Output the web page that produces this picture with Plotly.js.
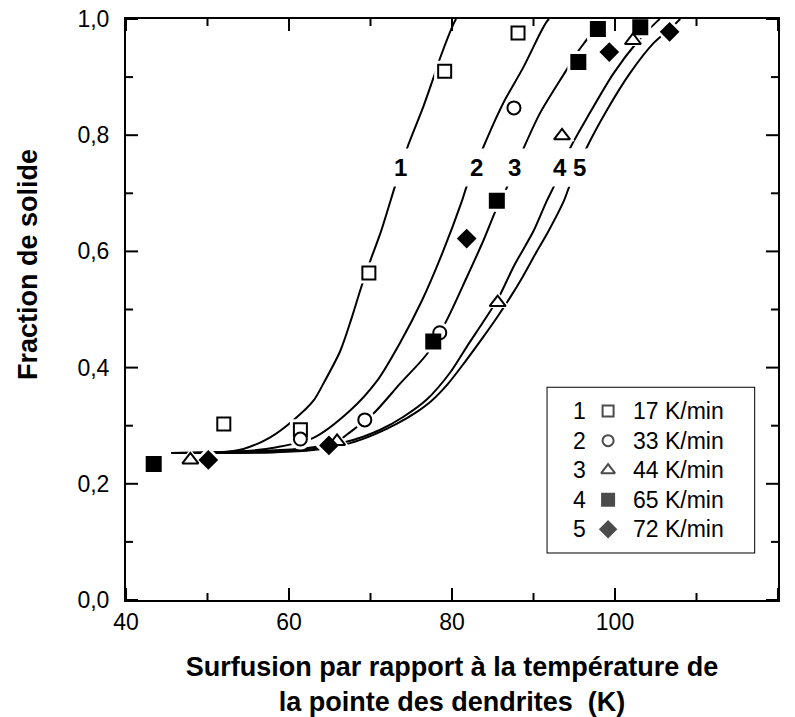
<!DOCTYPE html>
<html><head><meta charset="utf-8">
<script src="https://cdn.plot.ly/plotly-3.0.1.min.js"></script>
<style>html,body{margin:0;padding:0;background:#fff;}#chart{width:795px;height:717px;}</style>
</head><body><div id="chart"></div>
<script>
// ---- data ----
const rateLabels = ['17 K/min', '33 K/min', '44 K/min', '65 K/min', '72 K/min'];
const curveNumbers = ['1', '2', '3', '4', '5'];
const curveLabelX = [73.7, 83.0, 87.7, 93.2, 95.6];
const curveLabelY = [0.745, 0.745, 0.745, 0.745, 0.745];

// model curves
const curve1X = [45.6, 51.5, 54.4, 57.7, 60.5, 63.0, 64.2, 66.3, 67.7, 68.9, 70.0, 71.3, 73.0, 74.5, 76.4, 77.9, 78.6, 80.2, 80.5];
const curve1Y = [0.253, 0.254, 0.260, 0.280, 0.309, 0.343, 0.372, 0.429, 0.486, 0.540, 0.585, 0.635, 0.712, 0.778, 0.846, 0.906, 0.935, 0.992, 1.0];
const curve2X = [45.6, 54.4, 58.5, 63.0, 67.5, 70.8, 73.6, 76.3, 78.9, 81.2, 81.8, 83.8, 85.1, 86.5, 88.8, 90.8, 91.6, 91.9];
const curve2Y = [0.253, 0.256, 0.263, 0.279, 0.326, 0.377, 0.442, 0.515, 0.600, 0.686, 0.712, 0.778, 0.820, 0.861, 0.918, 0.975, 0.995, 1.0];
const curve3X = [45.6, 58.9, 63.0, 66.0, 67.5, 70.3, 73.6, 76.9, 79.3, 81.8, 83.8, 85.5, 86.7, 88.8, 90.8, 93.9, 95.5, 96.7, 98.0];
const curve3Y = [0.253, 0.258, 0.263, 0.274, 0.289, 0.320, 0.372, 0.423, 0.480, 0.555, 0.617, 0.675, 0.709, 0.778, 0.838, 0.909, 0.945, 0.968, 1.0];
const curve4X = [45.6, 58.0, 63.0, 66.7, 69.1, 71.2, 74.0, 76.9, 79.8, 82.0, 83.8, 85.7, 87.6, 90.0, 91.6, 92.5, 94.5, 96.9, 99.8, 102.7, 105.1, 105.5];
const curve4Y = [0.253, 0.255, 0.260, 0.271, 0.281, 0.293, 0.315, 0.345, 0.392, 0.440, 0.478, 0.520, 0.575, 0.635, 0.686, 0.712, 0.778, 0.838, 0.906, 0.960, 0.995, 1.0];
const curve5X = [45.6, 58.0, 63.0, 67.5, 70.5, 73.2, 75.5, 77.5, 79.5, 81.6, 83.8, 85.6, 87.1, 88.7, 90.4, 91.8, 93.7, 94.4, 96.5, 99.0, 101.8, 104.7, 106.9, 108.0];
const curve5Y = [0.253, 0.254, 0.258, 0.270, 0.285, 0.303, 0.322, 0.343, 0.372, 0.410, 0.452, 0.488, 0.520, 0.557, 0.600, 0.634, 0.686, 0.712, 0.778, 0.843, 0.906, 0.958, 0.985, 1.0];

// experimental points
const pts1X = [52.0, 61.4, 69.8, 79.1, 88.1];
const pts1Y = [0.303, 0.293, 0.563, 0.910, 0.976];
const pts2X = [61.4, 69.3, 78.5, 87.6];
const pts2Y = [0.277, 0.310, 0.460, 0.847];
const pts3X = [47.9, 65.9, 85.6, 93.5, 102.2];
const pts3Y = [0.241, 0.273, 0.512, 0.799, 0.963];
const pts4X = [43.4, 77.7, 85.5, 95.5, 97.9, 103.1];
const pts4Y = [0.234, 0.445, 0.687, 0.926, 0.983, 0.986];
const pts5X = [50.1, 64.9, 81.8, 99.3, 106.7];
const pts5Y = [0.241, 0.266, 0.622, 0.943, 0.978];

const xTickVals = [40, 60, 80, 100, 120];
const yTickVals = [0, 0.2, 0.4, 0.6, 0.8, 1.0];

// ---- styling ----
const FONT = 'Liberation Sans, Arial, Helvetica, sans-serif';
const M = {l: 126, r: 17, t: 19, b: 117};
const W = 795, H = 717;
const plotW = W - M.l - M.r, plotH = H - M.t - M.b;
const MAJ = 12, MIN = 7;

const curves = [[curve1X, curve1Y], [curve2X, curve2Y], [curve3X, curve3Y], [curve4X, curve4Y], [curve5X, curve5Y]];
const points = [[pts1X, pts1Y], [pts2X, pts2Y], [pts3X, pts3Y], [pts4X, pts4Y], [pts5X, pts5Y]];
const symbols = ['square', 'circle', 'triangle-up', 'square', 'diamond'];
const fills = ['white', 'white', 'white', 'black', 'black'];
const sizes = [13, 13, 14, 14, 13];
const legSizes = [11, 11, 12, 12, 12];

const traces = [];
curves.forEach(function (c) {
  traces.push({x: c[0], y: c[1], mode: 'lines', line: {color: 'black', width: 2, shape: 'spline', smoothing: 0.8},
    showlegend: false, hoverinfo: 'skip'});
});
points.forEach(function (p, i) {
  traces.push({x: p[0], y: p[1], mode: 'markers', marker: {symbol: symbols[i], size: sizes[i] + 8, color: 'white', line: {width: 0}},
    showlegend: false, hoverinfo: 'skip', cliponaxis: false});
});
points.forEach(function (p, i) {
  traces.push({x: p[0], y: p[1], mode: 'markers', name: rateLabels[i],
    marker: {symbol: symbols[i], size: sizes[i], color: fills[i], line: {color: 'black', width: 2}},
    showlegend: false, cliponaxis: false});
});

// custom legend in its own little axis system
const rowY = rateLabels.map(function (_, i) { return 0.5 + (2 - i) * 0.177; });
traces.push({x: rateLabels.map(function () { return 0.295; }), y: rowY, xaxis: 'x2', yaxis: 'y2', mode: 'markers',
  marker: {symbol: symbols, size: legSizes, color: fills, line: {color: 'black', width: 2}},
  showlegend: false, hoverinfo: 'skip', cliponaxis: false});

const annotations = [];
curveNumbers.forEach(function (n, i) {
  annotations.push({x: curveLabelX[i], y: curveLabelY[i], xref: 'x', yref: 'y', text: n, showarrow: false,
    font: {family: FONT, size: 24, color: 'black', weight: 700}, bgcolor: 'white', borderpad: 5});
});
rateLabels.forEach(function (t, i) {
  annotations.push({x: 0.16, y: rowY[i], xref: 'x2', yref: 'y2', text: curveNumbers[i], showarrow: false,
    font: {family: FONT, size: 23, color: 'black'}, xanchor: 'center'});
  annotations.push({x: 0.405, y: rowY[i], xref: 'x2', yref: 'y2', text: t, showarrow: false,
    font: {family: FONT, size: 23, color: 'black'}, xanchor: 'left'});
});
// y-axis title (placed a little above the centre, as in the original)
annotations.push({xref: 'paper', yref: 'paper', x: -0.150, y: 0.577, xanchor: 'center', yanchor: 'middle',
  text: 'Fraction de solide', textangle: -90, showarrow: false,
  font: {family: FONT, size: 27, color: 'black', weight: 700}});

// tick marks on all four sides (inside), major at labelled values, minor halfway between
const shapes = [{type: 'rect', xref: 'x2', yref: 'y2', x0: 0, x1: 1, y0: 0, y1: 1, line: {color: 'black', width: 2}, fillcolor: 'rgba(0,0,0,0)'}];
function xTick(v, len) {
  const f = len / plotH;
  shapes.push({type: 'line', xref: 'x', yref: 'y domain', x0: v, x1: v, y0: 0, y1: f, line: {color: 'black', width: 2}});
  shapes.push({type: 'line', xref: 'x', yref: 'y domain', x0: v, x1: v, y0: 1, y1: 1 - f, line: {color: 'black', width: 2}});
}
function yTick(v, len) {
  const f = len / plotW;
  shapes.push({type: 'line', xref: 'x domain', yref: 'y', x0: 0, x1: f, y0: v, y1: v, line: {color: 'black', width: 2}});
  shapes.push({type: 'line', xref: 'x domain', yref: 'y', x0: 1, x1: 1 - f, y0: v, y1: v, line: {color: 'black', width: 2}});
}
xTickVals.forEach(function (v, i) {
  xTick(v, MAJ);
  if (i < xTickVals.length - 1) xTick((v + xTickVals[i + 1]) / 2, MIN);
});
yTickVals.forEach(function (v, i) {
  yTick(v, MAJ);
  if (i < yTickVals.length - 1) yTick((v + yTickVals[i + 1]) / 2, MIN);
});

const layout = {
  width: W, height: H,
  margin: M,
  paper_bgcolor: 'white', plot_bgcolor: 'white',
  separators: ', ',
  showlegend: false,
  xaxis: {range: [xTickVals[0], xTickVals[xTickVals.length - 1]], tickmode: 'array', tickvals: xTickVals,
    ticks: '', showline: true, linecolor: '#000', linewidth: 2, mirror: true,
    showgrid: false, zeroline: false,
    tickfont: {family: FONT, size: 23, color: '#000'},
    title: {text: 'Surfusion par rapport à la température de<br>la pointe des dendrites  (K)', standoff: 24,
      font: {family: FONT, size: 27, color: '#000', weight: 700}}},
  yaxis: {range: [yTickVals[0], yTickVals[yTickVals.length - 1]], tickmode: 'array', tickvals: yTickVals, tickformat: '.1f',
    ticks: '', showline: true, linecolor: '#000', linewidth: 2, mirror: true,
    showgrid: false, zeroline: false, ticklabelstandoff: 10,
    tickfont: {family: FONT, size: 23, color: '#000'}},
  xaxis2: {domain: [0.645, 0.965], range: [0, 1], anchor: 'y2', visible: false, fixedrange: true},
  yaxis2: {domain: [0.080, 0.367], range: [0, 1], anchor: 'x2', visible: false, fixedrange: true},
  shapes: shapes,
  annotations: annotations
};

Plotly.newPlot('chart', traces, layout, {displayModeBar: false});
</script>
</body></html>
